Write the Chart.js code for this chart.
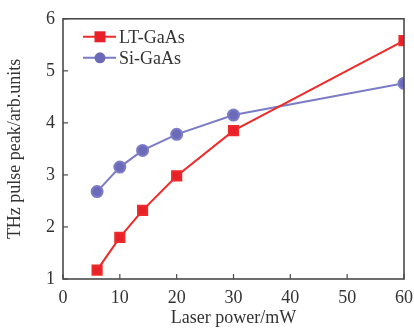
<!DOCTYPE html>
<html>
<head>
<meta charset="utf-8">
<script src="https://cdn.jsdelivr.net/npm/chart.js@4/dist/chart.umd.min.js"></script>
<style>
  html, body { margin: 0; padding: 0; background: #fff; }
  #wrap { width: 414px; height: 333px; }
</style>
</head>
<body>
<div id="wrap"><canvas id="thzChart" width="414" height="333"></canvas></div>
<script>
const powers = [6, 10, 14, 20, 30, 60];
const ltGaAs = [1.17, 1.8, 2.32, 2.98, 3.85, 5.58];
const siGaAs = [2.68, 3.15, 3.47, 3.78, 4.15, 4.76];
const xTicks = [0, 10, 20, 30, 40, 50, 60];
const yTicks = [1, 2, 3, 4, 5, 6];

const serif = "'Liberation Serif', 'DejaVu Serif', serif";
const axisColor = '#4a4a4a';
const textColor = '#333';

// box frame, inward ticks and the legend inside the plot
const framePlugin = {
    id: 'frame',
    afterDraw(chart) {
        const { ctx, chartArea: a, scales } = chart;
        ctx.save();
        ctx.strokeStyle = axisColor;
        ctx.lineWidth = 1.6;
        ctx.strokeRect(a.left, a.top, a.right - a.left, a.bottom - a.top);
        ctx.lineWidth = 1.2;
        xTicks.forEach(v => {
            const px = scales.x.getPixelForValue(v);
            ctx.beginPath();
            ctx.moveTo(px, a.bottom);
            ctx.lineTo(px, a.bottom - 5);
            ctx.stroke();
        });
        yTicks.forEach(v => {
            const py = scales.y.getPixelForValue(v);
            ctx.beginPath();
            ctx.moveTo(a.left, py);
            ctx.lineTo(a.left + 5, py);
            ctx.stroke();
        });

        // legend
        ctx.font = '18px ' + serif;
        ctx.textBaseline = 'middle';
        chart.data.datasets.forEach((ds, i) => {
            const y = a.top + 18 + i * 21;
            const x0 = a.left + 20;
            ctx.strokeStyle = ds.borderColor;
            ctx.lineWidth = 2;
            ctx.beginPath();
            ctx.moveTo(x0, y);
            ctx.lineTo(x0 + 33, y);
            ctx.stroke();
            ctx.fillStyle = ds.backgroundColor;
            if (ds.pointStyle === 'rect') {
                ctx.fillRect(x0 + 17 - 5.5, y - 5.5, 11, 11);
            } else {
                ctx.beginPath();
                ctx.arc(x0 + 17, y, 5.5, 0, Math.PI * 2);
                ctx.fill();
            }
            ctx.fillStyle = textColor;
            ctx.fillText(ds.label, x0 + 36, y + 1);
        });
        ctx.restore();
    }
};

new Chart(document.getElementById('thzChart'), {
    type: 'line',
    data: {
        datasets: [{
            label: 'LT-GaAs',
            data: powers.map((p, i) => ({ x: p, y: ltGaAs[i] })),
            borderColor: '#ee2a2a',
            backgroundColor: '#e8202a',
            pointStyle: 'rect',
            pointRadius: 6.5,
            borderWidth: 2,
            tension: 0
        }, {
            label: 'Si-GaAs',
            data: powers.map((p, i) => ({ x: p, y: siGaAs[i] })),
            borderColor: '#7b7bc6',
            backgroundColor: '#6a6ab8',
            pointStyle: 'circle',
            pointRadius: 5.5,
            borderWidth: 2,
            tension: 0
        }]
    },
    options: {
        responsive: false,
        animation: false,
        layout: { padding: { top: 13, right: 10, left: 0, bottom: 0 } },
        plugins: { legend: { display: false }, tooltip: { enabled: false } },
        scales: {
            x: {
                type: 'linear',
                min: 0, max: 60,
                afterBuildTicks: s => { s.ticks = xTicks.map(v => ({ value: v })); },
                afterFit: s => { s.height = 54; s.paddingRight = 10; },
                grid: { display: false, drawTicks: false },
                border: { display: false },
                ticks: { color: textColor, font: { family: serif, size: 18 }, padding: 8 },
                title: { display: true, text: 'Laser power/mW', color: textColor, font: { family: serif, size: 18 }, padding: { top: 0 } }
            },
            y: {
                min: 1, max: 6,
                afterBuildTicks: s => { s.ticks = yTicks.map(v => ({ value: v })); },
                afterFit: s => { s.width = 63; },
                grid: { display: false, drawTicks: false },
                border: { display: false },
                ticks: { color: textColor, font: { family: serif, size: 18 }, padding: 8 },
                title: { display: true, text: 'THz pulse peak/arb.units', color: textColor, font: { family: serif, size: 18 }, padding: { bottom: 2 } }
            }
        }
    },
    plugins: [framePlugin]
});
</script>
</body>
</html>
